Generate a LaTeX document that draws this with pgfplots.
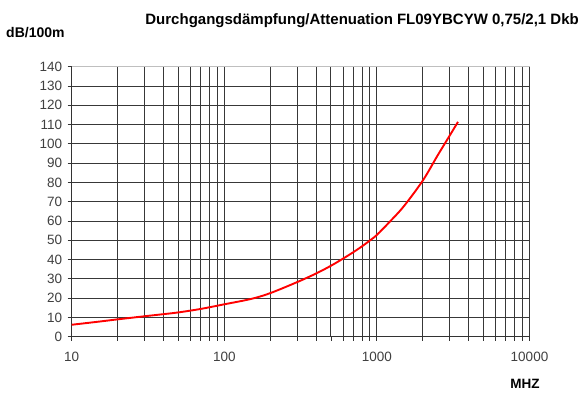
\documentclass[border=0pt]{standalone}
\usepackage{fontspec}
\setmainfont{Liberation Sans}
\usepackage{pgfplots}
\pgfplotsset{compat=1.18}
\begin{document}
\begin{tikzpicture}
\begin{axis}[
  scale only axis,
  width=457.8pt, height=270pt,
  at={(0pt,0pt)}, anchor=south west,
  xmode=log, log basis x=10,
  xmin=10, xmax=10000, ymin=0, ymax=140,
  xtick={10,100,1000,10000},
  xticklabels={10,100,1000,10000},
  minor xtick={20,30,40,50,60,70,80,90,200,300,400,500,600,700,800,900,2000,3000,4000,5000,6000,7000,8000,9000},
  ytick={0,10,...,140},
  grid=both,
  major grid style={black!78, line width=0.95pt},
  minor grid style={black!78, line width=0.95pt},
  axis line style={black!80, line width=0.95pt},
  axis x line*=bottom, axis y line*=left,
  tick align=outside,
  major tick length=4pt, minor tick length=4pt,
  tick style={black!80, line width=0.9pt},
  xtick pos=bottom, ytick pos=left,
  /pgf/number format/assume math mode=true,
  ticklabel style={font=\fontsize{13.5}{15}\selectfont, text=black!75},
  xticklabel style={yshift=-7.5pt},
  yticklabel style={xshift=-2pt},
  clip=false,
]
\addplot[red, line width=1.9pt, smooth, tension=0.55] coordinates {
(10,6.2)(15,7.8)(20,9.0)(30,10.6)(40,11.7)(50,12.6)(70,14.4)(100,16.8)
(150,19.6)(200,22.6)(300,28.3)(400,32.8)(500,36.8)(600,40.5)(700,43.8)
(800,46.9)(900,49.9)(1000,52.8)(1200,59.2)(1500,67.6)(2000,81)
(2500,94)(3000,104.3)(3400,111.4)
};
\end{axis}
\draw[black!25, line width=1pt] (0pt,270pt) -- (457.8pt,270pt);
\node[anchor=east, font=\bfseries\fontsize{15}{17}\selectfont, inner sep=0pt] at (507.3pt,315.7pt) {Durchgangsdämpfung/Attenuation FL09YBCYW 0,75/2,1 Dkb};
\node[anchor=west, font=\bfseries\fontsize{14}{16}\selectfont, inner sep=0pt] at (-65.7pt,304pt) {dB/100m};
\node[font=\bfseries\fontsize{13.5}{15}\selectfont, inner sep=0pt] at (453.3pt,-47.5pt) {MHZ};
\useasboundingbox (-71.7pt,-55.3pt) rectangle (511.3pt,336.7pt);
\end{tikzpicture}
\end{document}
